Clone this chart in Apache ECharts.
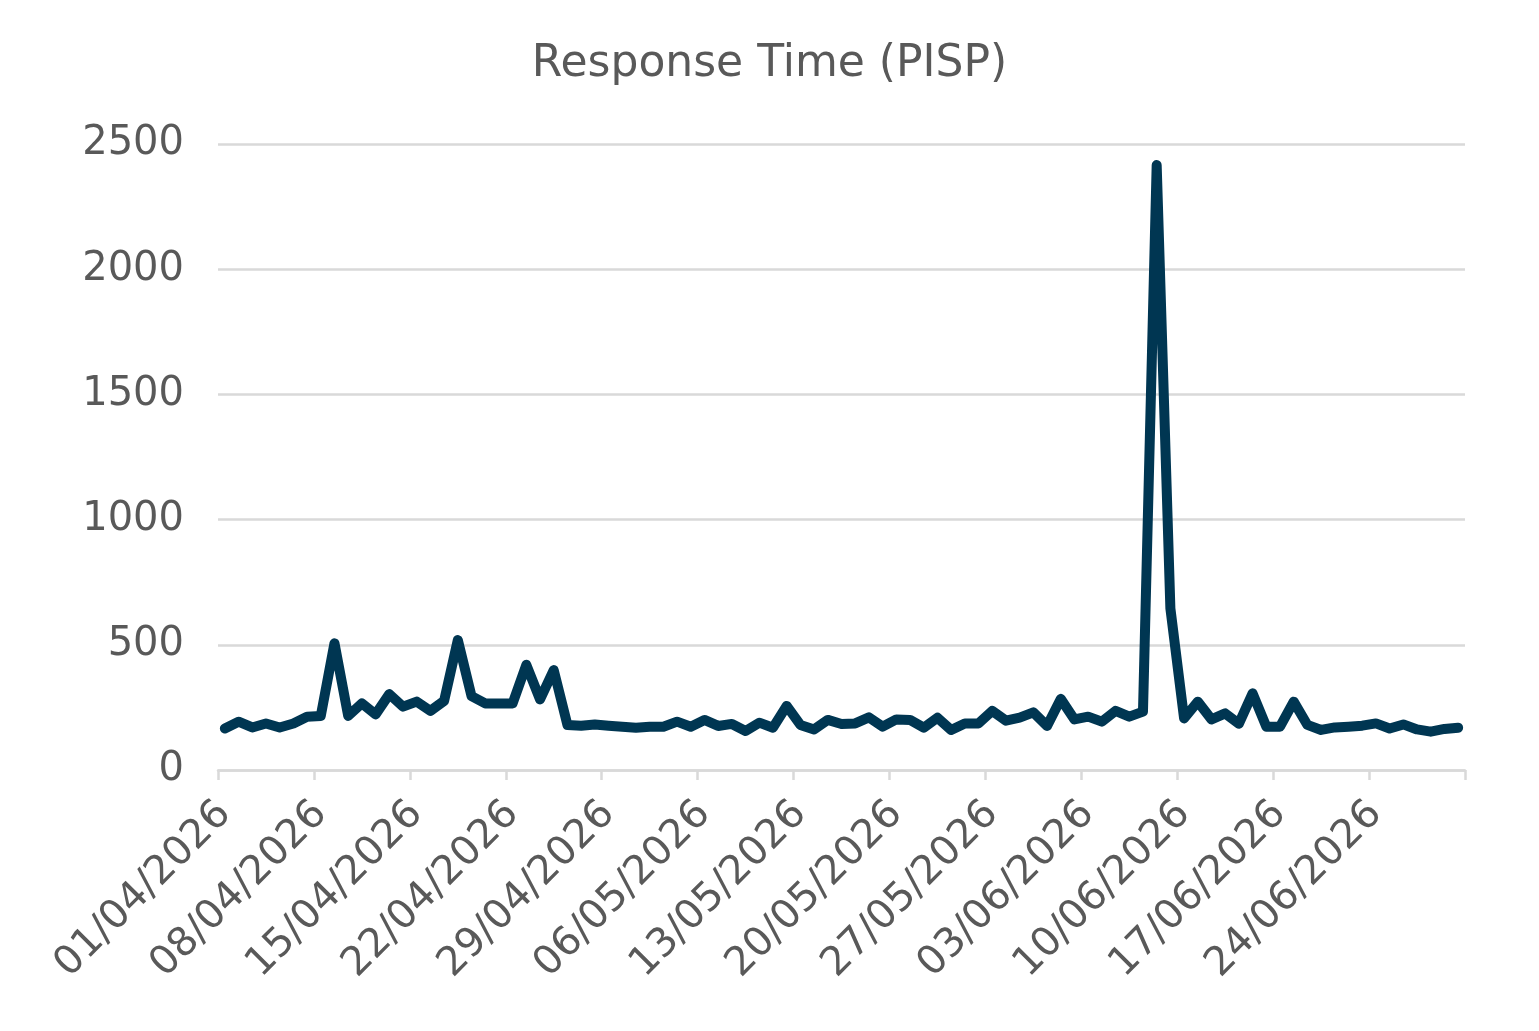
<!DOCTYPE html>
<html>
<head>
<meta charset="utf-8">
<title>Response Time (PISP)</title>
<script src="https://cdn.jsdelivr.net/npm/echarts@6/dist/echarts.min.js"></script>
<style>
	html, body { margin: 0; padding: 0; background: #ffffff; }
	#chart { width: 1539px; height: 1031px; }
</style>
</head>
<body>
<div id="chart"></div>
<script>
// daily response time, 01/04/2026 .. 30/06/2026
var startDate = [2026, 4, 1];
var dayCount = 91;
var responseTime = [
	166, 193, 170, 186, 170, 186, 213, 216, 506, 216,
	266, 222, 303, 253, 273, 236, 276, 519, 295, 266,
	266, 266, 420, 282, 399, 180, 177, 182, 177, 173,
	169, 173, 173, 193, 173, 200, 176, 184, 156, 189,
	169, 256, 180, 162, 200, 184, 186, 210, 173, 202,
	200, 169, 209, 160, 186, 186, 236, 197, 209, 230,
	176, 284, 202, 213, 193, 236, 213, 233, 2416, 645,
	206, 273, 202, 226, 185, 306, 173, 173, 273, 180,
	160, 170, 173, 177, 186, 166, 182, 162, 153, 164,
	169
];
var yTicks = [0, 500, 1000, 1500, 2000, 2500];

var pad = function(n) {
	return n < 10 ? '0' + n : '' + n;
};

// dd/mm/yyyy category labels
var dates = [];
for (var i = 0; i < dayCount; i++) {
	var d = new Date(startDate[0], startDate[1] - 1, startDate[2] + i);
	dates.push(pad(d.getDate()) + '/' + pad(d.getMonth() + 1) + '/' + d.getFullYear());
}

var textColor = '#595959';
var gridColor = '#d9d9d9';
var fontName = '"DejaVu Sans", sans-serif';

var chart = echarts.init(document.getElementById('chart'));
chart.setOption({
	animation: false,
	backgroundColor: '#ffffff',
	title: {
		text: 'Response Time (PISP)',
		left: 'center',
		top: 38,
		textStyle: {
			color: textColor,
			fontFamily: fontName,
			fontSize: 44,
			fontWeight: 'normal'
		}
	},
	grid: {
		left: 218,
		right: 74,
		top: 144,
		bottom: 261,
		containLabel: false,
		outerBoundsMode: 'none'
	},
	xAxis: {
		type: 'category',
		data: dates,
		boundaryGap: true,
		axisLine: {
			show: true,
			lineStyle: { color: gridColor, width: 2.5 }
		},
		axisTick: {
			show: true,
			interval: 6,
			length: 10,
			lineStyle: { color: gridColor, width: 2.5 }
		},
		axisLabel: {
			interval: 6,
			rotate: 45,
			margin: 38,
			color: textColor,
			fontFamily: fontName,
			fontSize: 40
		},
		splitLine: { show: false }
	},
	yAxis: {
		type: 'value',
		min: yTicks[0],
		max: yTicks[yTicks.length - 1],
		interval: yTicks[1] - yTicks[0],
		axisLine: { show: false },
		axisTick: { show: false },
		axisLabel: {
			margin: 34,
			color: textColor,
			fontFamily: fontName,
			fontSize: 40,
			formatter: function(v) {
				return String(v);
			}
		},
		splitLine: {
			show: true,
			lineStyle: { color: gridColor, width: 2.5 }
		}
	},
	series: [{
		name: 'Response Time (PISP)',
		type: 'line',
		data: responseTime,
		symbol: 'none',
		smooth: false,
		lineStyle: {
			color: '#003652',
			width: 10,
			cap: 'round',
			join: 'round'
		}
	}]
});
</script>
</body>
</html>
